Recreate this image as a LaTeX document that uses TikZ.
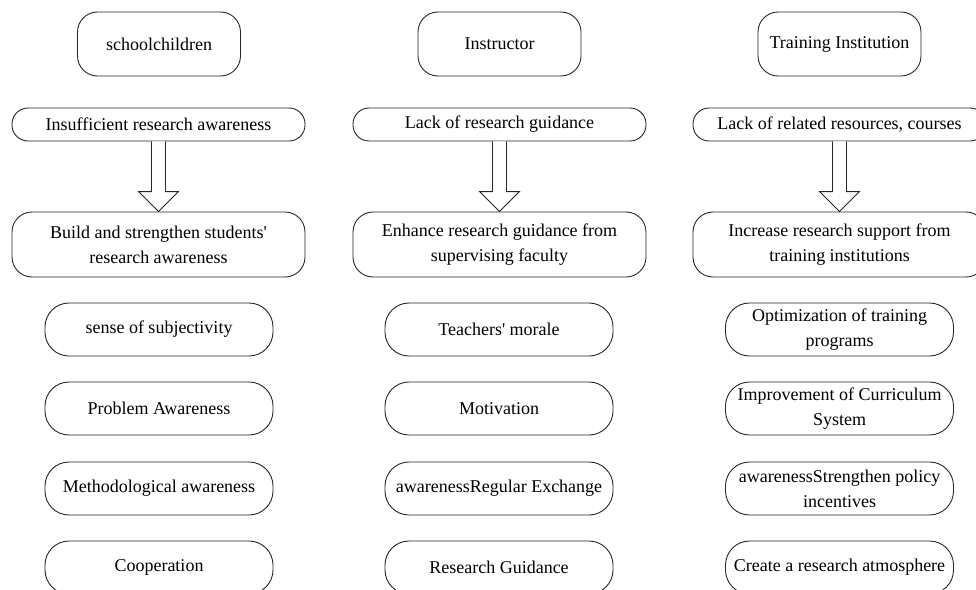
\documentclass[tikz,border=0pt]{standalone}
\usepackage{fontspec}
\setmainfont{Liberation Serif}
\usetikzlibrary{calc}
\tikzset{
  box/.style={draw=black!85, line width=0.9pt, rectangle, inner sep=0pt, align=center,
    font=\fontsize{18}{25}\selectfont},
  hdr/.style={box, minimum width=163pt, minimum height=64pt, rounded corners=20pt},
  prob/.style={box, minimum width=293pt, minimum height=33pt, rounded corners=16pt},
  sol/.style={box, minimum width=293pt, minimum height=65pt, rounded corners=20pt},
  item/.style={box, minimum width=228pt, minimum height=53pt, rounded corners=24pt},
  hollow/.style={draw=black!85, line width=0.9pt, fill=white, line join=miter}
}
\newcommand{\blockarrow}[2]{%
  \draw[hollow] ($(#1.south)+(-7,0)$) -- ($(#2.north)+(-7,-20)$) -- ($(#2.north)+(-20,-20)$)
    -- (#2.north) -- ($(#2.north)+(20,-20)$) -- ($(#2.north)+(7,-20)$) -- ($(#1.south)+(7,0)$);}
\begin{document}
\begin{tikzpicture}[x=1pt,y=-1pt]
\useasboundingbox (0,0) rectangle (976,589);
\clip (0,0) rectangle (976,589);
% column 1
\node[hdr] (h1) at (159,44) {schoolchildren};
\node[prob] (p1) at (158.5,124.5) {Insufficient research awareness};
\node[sol] (s1) at (158.5,244.5) {Build and strengthen students\textquotesingle\\research awareness};
\node[item] (a1) at (159,329.5) {sense of subjectivity};
\node[item] (a2) at (159,408.5) {Problem Awareness};
\node[item] (a3) at (159,488.5) {Methodological awareness};
\node[item] (a4) at (159,567.5) {Cooperation};
% column 2
\node[hdr] (h2) at (499.5,44) {Instructor};
\node[prob] (p2) at (499.5,124.5) {Lack of research guidance};
\node[sol] (s2) at (499.5,244.5) {Enhance research guidance from\\supervising faculty};
\node[item] (b1) at (499,329.5) {Teachers\textquotesingle{} morale};
\node[item] (b2) at (499,408.5) {Motivation};
\node[item] (b3) at (499,488.5) {awarenessRegular Exchange};
\node[item] (b4) at (499,567.5) {Research Guidance};
% column 3
\node[hdr] (h3) at (839.5,44) {Training Institution};
\node[prob] (p3) at (839.5,124.5) {Lack of related resources, courses};
\node[sol] (s3) at (839.5,244.5) {Increase research support from\\training institutions};
\node[item] (c1) at (839.5,329.5) {Optimization of training\\programs};
\node[item] (c2) at (839.5,408.5) {Improvement of Curriculum\\System};
\node[item] (c3) at (839.5,488.5) {awarenessStrengthen policy\\incentives};
\node[item] (c4) at (839.5,567.5) {Create a research atmosphere};
% arrows
\blockarrow{p1}{s1}
\blockarrow{p2}{s2}
\blockarrow{p3}{s3}
\end{tikzpicture}
\end{document}
